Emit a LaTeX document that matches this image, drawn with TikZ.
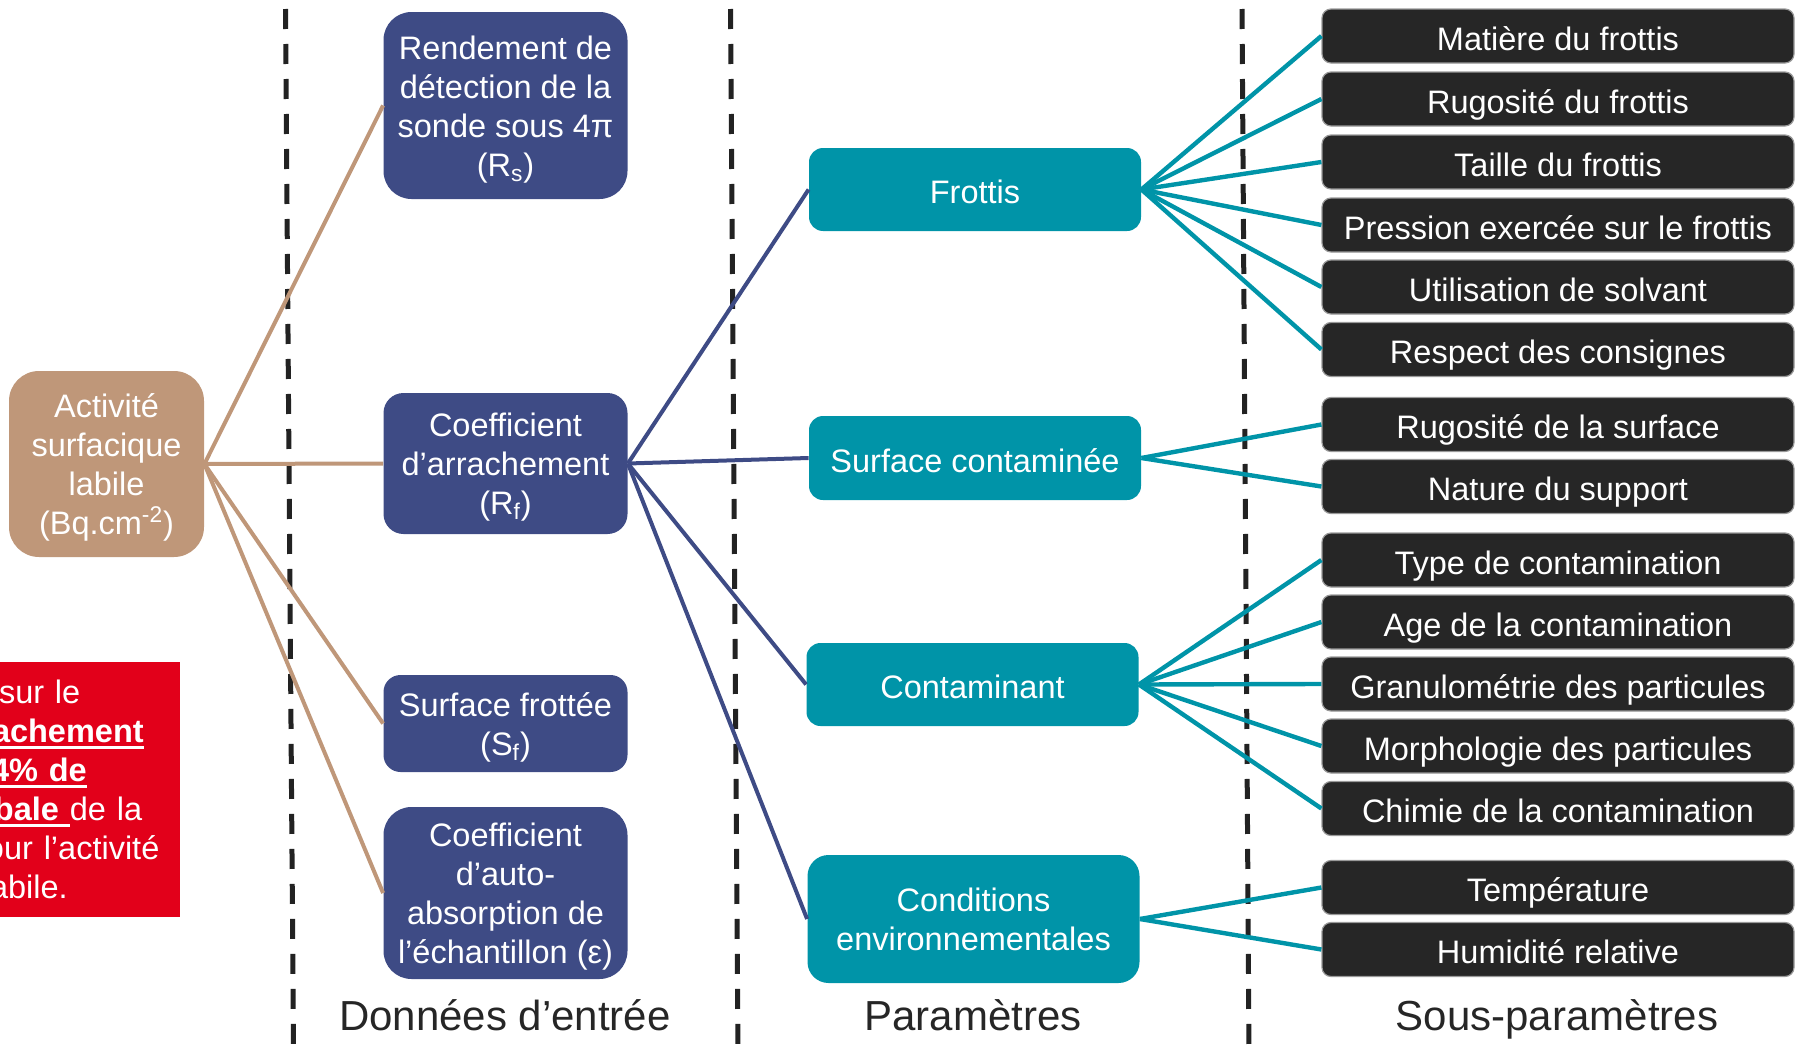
\documentclass[tikz,border=0pt]{standalone}
\usepackage{fontspec}
\setmainfont{Liberation Sans}

\definecolor{brun}{HTML}{BF9779}
\definecolor{marine}{HTML}{3E4B85}
\definecolor{sarcelle}{HTML}{0094A8}
\definecolor{noirbox}{HTML}{262626}
\definecolor{rouge}{HTML}{E2001A}
\definecolor{tiret}{HTML}{222222}

\newsavebox\soulbox
\newcommand{\souligne}[1]{\leavevmode\sbox\soulbox{#1}\rlap{\rule[-3.2pt]{\wd\soulbox}{1.5pt}}\usebox\soulbox}

\tikzset{
  une/.style={text height=14pt, text depth=0pt},
  deux/.style={text height=31.8pt, text depth=0pt},
  trois/.style={text height=51.3pt, text depth=0pt},
  quatre/.style={text height=70.8pt, text depth=0pt},
  boite/.style={rectangle, inner sep=0pt, align=center, text=white, une,
    font=\fontsize{16.25}{19.5}\selectfont},
  source/.style={boite, fill=brun},
  donnee/.style={boite, fill=marine, minimum width=122pt},
  param/.style={boite, fill=sarcelle, minimum width=166pt},
  sousparam/.style={boite, fill=noirbox, draw=black!40, line width=0.6pt,
    minimum width=236pt, minimum height=27pt, rounded corners=4.5pt},
  lienbrun/.style={draw=brun, line width=2pt},
  lienmarine/.style={draw=marine, line width=2pt},
  liensarcelle/.style={draw=sarcelle, line width=2.2pt},
  separateur/.style={draw=tiret, line width=2.5pt, dash pattern=on 10pt off 7.5pt},
  titre/.style={anchor=base, text=noirbox, font=\fontsize{21}{25}\selectfont}
}

\begin{document}
\begin{tikzpicture}[x=0.5pt, y=-0.5pt]
\useasboundingbox (0,0) rectangle (1801,1049);

% separateurs
\draw[separateur] (285.5,9) -- (293.5,1049);
\draw[separateur] (730.5,9) -- (738,1049);
\draw[separateur] (1242,9) -- (1249,1049);

% note rouge (coupee a gauche)
\node[rectangle, fill=rouge, text=white, inner sep=0pt, minimum width=90pt,
  minimum height=127.5pt, text width=90pt, align=left,
  font=\fontsize{16.25}{19.5}\selectfont] (note) at (90,789.5)
  {\hspace*{-0.5pt}sur le\\
   \hspace*{-4pt}\souligne{\textbf{achement}}\\
   \hspace*{-4.5pt}\souligne{\textbf{4\% de}}\\
   \hspace*{-3pt}\souligne{\textbf{bale}\ }de la\\
   \hspace*{-7pt}our l’activité\\
   \hspace*{-5pt}abile.};

% activite
\node[source, quatre, minimum width=97.5pt, minimum height=93pt, rounded corners=15pt] (act)
  at (106.5,464) {Activité\\surfacique\\labile\\(Bq.cm\textsuperscript{-2})};

% donnees d'entree
\node[donnee, quatre, minimum height=93.5pt, rounded corners=14pt] (rs) at (505.5,105.5)
  {Rendement de\\détection de la\\sonde sous 4π\\(R\textsubscript{s})};
\node[donnee, trois, minimum height=70.5pt, rounded corners=10pt] (rf) at (505.5,463.5)
  {Coefficient\\d’arrachement\\(R\textsubscript{f})};
\node[donnee, deux, minimum height=48.5pt, rounded corners=8.5pt] (sf) at (505.5,723.5)
  {Surface frottée\\(S\textsubscript{f})};
\node[donnee, quatre, minimum height=86pt, rounded corners=14pt] (eps) at (505.5,893)
  {Coefficient\\d’auto-\\absorption de\\l’échantillon (ε)};

% parametres
\node[param, minimum height=41.5pt, rounded corners=7pt] (frottis) at (975,189.5) {Frottis};
\node[param, minimum height=42pt, rounded corners=7pt] (surf) at (975,458) {Surface contaminée};
\node[param, minimum height=41.5pt, rounded corners=7pt] (cont) at (972.5,684.5) {Contaminant};
\node[param, deux, minimum height=64pt, rounded corners=10.5pt] (cond) at (973.5,919)
  {Conditions\\environnementales};

% sous-parametres
\foreach \y/\nom/\txt in {36/mat/Matière du frottis, 99/rugf/Rugosité du frottis,
    162/tai/Taille du frottis, 225/pre/Pression exercée sur le frottis,
    287/uti/Utilisation de solvant, 349.5/res/Respect des consignes,
    424.5/rugs/Rugosité de la surface, 486.5/nat/Nature du support,
    560/typ/Type de contamination, 622/age/Age de la contamination,
    684/gra/Granulométrie des particules, 746/mor/Morphologie des particules,
    808.5/chi/Chimie de la contamination,
    887.5/tem/Température, 949.5/hum/Humidité relative} {
\node[sousparam] (\nom) at (1558,\y) {\txt};
}

% liens
\foreach \n in {rs,rf,sf,eps} {
\draw[lienbrun] (act.east) -- (\n.west);
}
\foreach \n in {frottis,surf,cont,cond} {
\draw[lienmarine] (rf.east) -- (\n.west);
}
\foreach \n in {mat,rugf,tai,pre,uti,res} {
\draw[liensarcelle] (frottis.east) -- (\n.west);
}
\foreach \n in {rugs,nat} {
\draw[liensarcelle] (surf.east) -- (\n.west);
}
\foreach \n in {typ,age,gra,mor,chi} {
\draw[liensarcelle] (cont.east) -- (\n.west);
}
\foreach \n in {tem,hum} {
\draw[liensarcelle] (cond.east) -- (\n.west);
}

% titres
\node[titre] (tdon) at (505,1030) {Données d’entrée};
\node[titre] (tpar) at (973,1030) {Paramètres};
\node[titre] (tsou) at (1557,1030) {Sous-paramètres};
\end{tikzpicture}
\end{document}
